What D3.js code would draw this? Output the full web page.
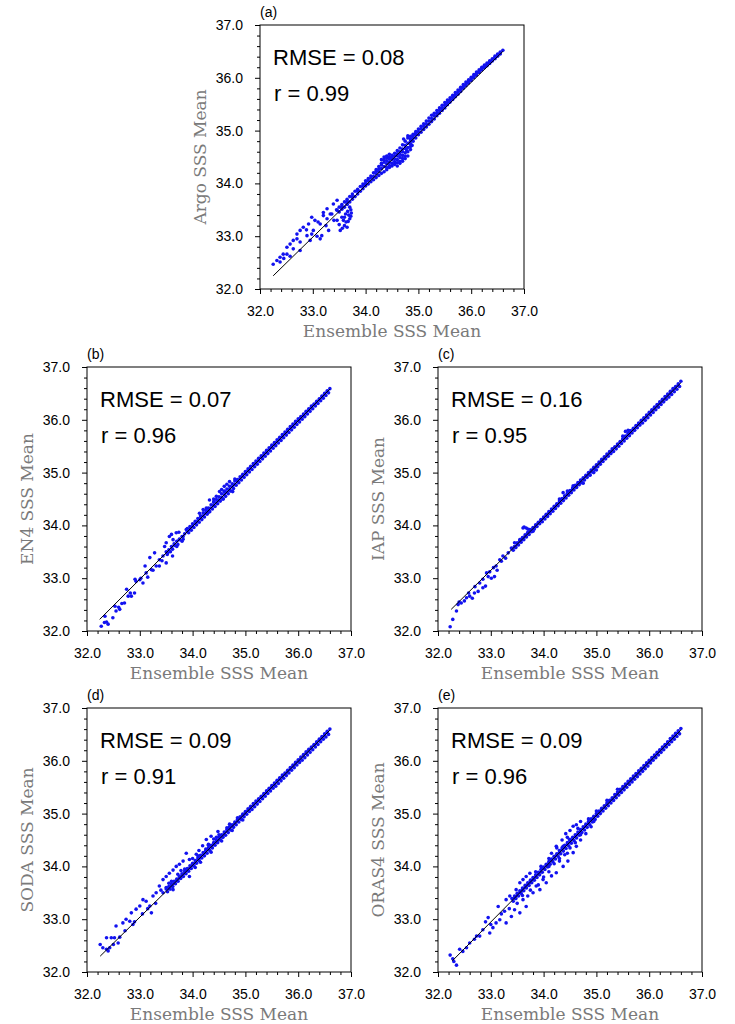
<!DOCTYPE html>
<html>
<head>
<meta charset="utf-8">
<script src="https://cdn.jsdelivr.net/npm/d3@7"></script>
<style>
  body { margin: 0; background: #fff; }
  svg { display: block; }
</style>
</head>
<body>
<svg></svg>
<script>
// ---- data ----
const products = ["Argo", "EN4", "IAP", "SODA", "ORAS4"];
const panelTags = ["(a)", "(b)", "(c)", "(d)", "(e)"];
const rmseVals = ["0.08", "0.07", "0.16", "0.09", "0.09"];
const rVals = ["0.99", "0.96", "0.95", "0.91", "0.96"];
const majorTicks = [32, 33, 34, 35, 36, 37];
const minorTicks = [32.2, 32.4, 32.6, 32.8, 33.2, 33.4, 33.6, 33.8, 34.2, 34.4, 34.6, 34.8,
                    35.2, 35.4, 35.6, 35.8, 36.2, 36.4, 36.6, 36.8];

// fitted line end points per panel
const fitLines = [
  [[32.25, 32.25], [36.6, 36.5]],
  [[32.24, 32.22], [36.6, 36.58]],
  [[32.25, 32.41], [36.6, 36.7]],
  [[32.25, 32.3], [36.6, 36.58]],
  [[32.27, 32.21], [36.6, 36.58]]
];

// [ensemble mean, product mean]
const argoPts = [
  // sparse low-salinity part
  [32.25,32.47],[32.32,32.54],[32.38,32.6],[32.44,32.66],[32.51,32.79],[32.57,32.85],[32.63,32.92],[32.7,33.04],[32.76,33.11],[32.82,33.17],
  [32.92,33.23],[32.98,33.36],[33.04,33.3],[32.98,33.04],[33.14,32.95],[33.17,33.01],[33.3,33.11],[33.2,33.39],[33.33,33.42],[33.46,33.3],
  [33.52,33.11],[33.65,33.17],[32.38,32.51],[32.51,32.66],[32.63,32.76],[32.76,32.89],[32.89,33.01],[33.01,33.11],[33.14,33.23],[33.27,33.33],
  [33.36,33.42],[33.46,33.49],[33.55,33.55],[33.65,33.61],[32.76,32.73],[32.57,32.62],[32.95,32.92],[33.08,33.0],[33.25,33.2],[33.4,33.3],
  [33.27,33.52],[33.39,33.61],[33.46,33.68],[33.2,33.45],[32.45,32.58],[32.88,33.12],[33.1,33.27],[32.7,32.95],
  // hook near 33.7
  [33.7,33.55],[33.72,33.5],[33.73,33.44],[33.72,33.38],[33.7,33.33],[33.67,33.28],[33.63,33.27],[33.58,33.3],[33.55,33.36],[33.62,33.42],
  [33.66,33.47],[33.6,33.36],[33.5,33.22],[33.56,33.15],[33.6,33.2],[33.68,33.4],
  // band
  [33.45,33.5],[33.5,33.55],[33.55,33.6],[33.6,33.65],[33.65,33.7],[33.7,33.75],[33.75,33.8],[33.8,33.85],[33.85,33.89],[33.9,33.94],[33.95,33.99],
  [33.5,33.46],[33.55,33.51],[33.6,33.55],[33.65,33.6],[33.7,33.65],[33.75,33.7],[33.8,33.75],[33.85,33.8],[33.9,33.85],[33.95,33.9],
  [34.0,34.05],[34.05,34.09],[34.1,34.14],[34.15,34.2],[34.2,34.26],[34.25,34.32],[34.3,34.38],[34.35,34.45],[34.4,34.48],[34.45,34.5],
  [34.5,34.53],[34.55,34.57],[34.6,34.62],[34.65,34.67],[34.7,34.73],[34.75,34.8],[34.8,34.86],[34.85,34.89],[34.9,34.93],[34.95,34.98],
  [35.0,35.03],[35.05,35.08],[35.1,35.13],[35.15,35.18],[35.2,35.24],[35.25,35.29],[35.3,35.33],[35.35,35.38],[35.4,35.43],[35.45,35.48],
  [35.5,35.53],[35.55,35.58],[35.6,35.62],[35.65,35.67],[35.7,35.72],[35.75,35.77],[35.8,35.82],[35.85,35.87],[35.9,35.92],[35.95,35.96],
  [36.0,36.01],[36.05,36.06],[36.1,36.11],[36.15,36.15],[36.2,36.2],[36.25,36.24],[36.3,36.28],[36.35,36.32],[36.4,36.36],[36.45,36.41],
  [36.5,36.45],[36.55,36.49],[36.6,36.52],
  [34.0,33.95],[34.05,33.99],[34.1,34.03],[34.15,34.07],[34.2,34.11],[34.25,34.15],[34.3,34.19],[34.35,34.22],[34.4,34.26],[34.45,34.3],
  [34.5,34.33],[34.55,34.36],[34.6,34.39],[34.65,34.42],[34.7,34.47],[34.75,34.52],[34.8,34.6],[34.85,34.7],[34.9,34.8],[34.95,34.86],
  [35.0,34.92],[35.05,34.97],[35.1,35.02],[35.15,35.07],[35.2,35.12],[35.25,35.17],[35.3,35.22],[35.35,35.28],[35.4,35.33],[35.45,35.38],
  [35.5,35.43],[35.55,35.49],[35.6,35.54],[35.65,35.59],[35.7,35.64],[35.75,35.69],[35.8,35.74],[35.85,35.8],[35.9,35.85],[35.95,35.9],
  [36.0,35.95],[36.05,36.0],[36.1,36.05],[36.15,36.1],[36.2,36.15],[36.25,36.19],[36.3,36.23],[36.35,36.27],[36.4,36.32],[36.45,36.36],
  [36.5,36.41],[36.55,36.45],
  [34.15,34.13],[34.25,34.22],[34.35,34.32],[34.45,34.4],[34.55,34.46],[34.65,34.55],[34.75,34.66],[34.85,34.8],[34.95,34.92],[34.3,34.28],
  [34.5,34.45],[34.7,34.6],[34.6,34.52],[34.4,34.37],[34.2,34.18],[34.35,34.5],[34.4,34.52],[34.45,34.55],[34.3,34.45],[34.8,34.9],
  [34.72,34.84],[34.7,34.42],[34.75,34.47],[34.8,34.52],[34.65,34.38],[34.6,34.33],[34.78,34.62],[34.85,34.64],[34.88,34.72],
  [33.55,33.56],[33.65,33.66],[33.75,33.75],[33.85,33.85],[33.95,33.95],[35.0,34.98],[35.05,35.03],[35.1,35.08],[35.15,35.13],[35.2,35.18],
  [35.25,35.23],[35.3,35.28],[35.35,35.33],[35.4,35.38],[35.45,35.43],[35.5,35.48],[35.55,35.53],[35.6,35.58],[35.65,35.63],[35.7,35.68],
  [35.75,35.73],[35.8,35.78],[35.85,35.83],[35.9,35.88],[35.95,35.93],[36.0,35.98],[36.05,36.03],[36.1,36.08],[36.15,36.12],[36.2,36.17],
  [36.25,36.22],[36.3,36.26],[36.35,36.3],[36.4,36.34],[36.45,36.38],[36.5,36.43],[36.55,36.47],
  [34.3,34.35],[34.35,34.4],[34.4,34.43],[34.45,34.46],[34.5,34.49],[34.55,34.52],[34.6,34.56],[34.65,34.6],[34.7,34.65],[34.75,34.72],
  [34.8,34.76],[34.85,34.84],[34.4,34.3],[34.45,34.34],[34.5,34.38],[34.55,34.41],[34.6,34.45],[34.65,34.49],[34.7,34.53],[34.75,34.58],
  [34.8,34.68],[34.85,34.75],[34.9,34.86],[34.25,34.27],[34.2,34.23],[34.1,34.1],[34.05,34.05],[34.0,34.0],[33.98,33.97],[34.9,34.9],
  [34.95,34.95]
];

const en4Pts = [
  [32.27,32.09],[32.33,32.16],[32.4,32.13],[32.37,32.17],[32.34,32.28],[32.49,32.25],[32.53,32.47],[32.55,32.38],[32.62,32.41],[32.66,32.52],
  [32.71,32.53],[32.75,32.79],[32.78,32.66],[32.84,32.66],[32.9,32.72],[32.91,32.98],[32.93,32.94],[33.0,32.97],[33.06,32.91],[33.1,33.23],
  [33.12,33.1],[33.19,33.39],[33.22,33.16],[33.28,33.48],[33.31,33.23],[33.37,33.35],[33.44,33.42],[33.5,33.67],[33.53,33.48],[33.56,33.79],
  [33.63,33.73],[33.69,33.86],[33.75,33.73],[33.82,33.79],[33.88,33.92],[33.47,33.6],[33.6,33.83],[33.74,33.87],[33.66,33.62],[33.37,33.23],
  [33.5,33.29],[33.62,33.42],[33.42,33.33],[33.58,33.5],[33.7,33.6],[33.8,33.7],[32.6,32.45],[32.82,32.72],[33.02,33.0],[33.15,33.02],
  [33.25,33.15],[34.13,34.23],[34.26,34.33],[34.32,34.48],[34.45,34.55],[34.51,34.64],[34.6,34.74],[34.7,34.83],[34.76,34.64],[34.4,34.5],
  [34.55,34.68],[34.65,34.78],[34.8,34.88],[34.2,34.3],[34.58,34.5],
  [33.5,33.5],[33.55,33.54],[33.6,33.6],[33.65,33.65],[33.7,33.7],[33.75,33.74],[33.8,33.79],[33.85,33.84],[33.52,33.45],[33.62,33.55],
  [33.72,33.64],[33.82,33.74],
  [33.9,33.94],[33.95,33.98],[34.0,34.03],[34.05,34.08],[34.1,34.13],[34.15,34.18],[34.2,34.24],[34.25,34.28],[34.3,34.33],[34.35,34.39],
  [34.4,34.44],[34.45,34.49],[34.5,34.54],[34.55,34.6],[34.6,34.64],[34.65,34.69],[34.7,34.74],[34.75,34.79],[34.8,34.84],[34.85,34.87],
  [34.9,34.92],[34.95,34.97],[35.0,35.02],[35.05,35.07],[35.1,35.12],[35.15,35.17],[35.2,35.22],[35.25,35.27],[35.3,35.32],[35.35,35.37],
  [35.4,35.42],[35.45,35.47],[35.5,35.52],[35.55,35.57],[35.6,35.62],[35.65,35.67],[35.7,35.72],[35.75,35.77],[35.8,35.82],[35.85,35.87],
  [35.9,35.92],[35.95,35.97],[36.0,36.02],[36.05,36.06],[36.1,36.11],[36.15,36.16],[36.2,36.21],[36.25,36.26],[36.3,36.3],[36.35,36.35],
  [36.4,36.4],[36.45,36.45],[36.5,36.5],[36.55,36.55],[36.6,36.59],
  [33.925,33.86],[33.975,33.91],[34.025,33.96],[34.075,34.01],[34.125,34.06],[34.175,34.11],[34.225,34.16],[34.275,34.21],[34.325,34.26],[34.375,34.31],
  [34.425,34.36],[34.475,34.41],[34.525,34.46],[34.575,34.5],[34.625,34.55],[34.675,34.6],[34.725,34.65],[34.775,34.7],[34.825,34.76],[34.875,34.81],
  [34.925,34.86],[34.975,34.91],[35.025,34.96],[35.075,35.01],[35.125,35.06],[35.175,35.11],[35.225,35.16],[35.275,35.21],[35.325,35.26],[35.375,35.31],
  [35.425,35.36],[35.475,35.41],[35.525,35.46],[35.575,35.51],[35.625,35.56],[35.675,35.61],[35.725,35.66],[35.775,35.71],[35.825,35.76],[35.875,35.81],
  [35.925,35.86],[35.975,35.91],[36.025,35.96],[36.075,36.01],[36.125,36.06],[36.175,36.11],[36.225,36.16],[36.275,36.21],[36.325,36.26],[36.375,36.31],
  [36.425,36.36],[36.475,36.41],[36.525,36.46],[36.575,36.51],
  [34.3,34.25],[34.5,34.47],[34.7,34.66],[34.4,34.45],[34.6,34.65],[34.8,34.77],
  [33.9,33.89],[33.95,33.93],[34.0,33.98],[34.05,34.03],[34.1,34.08],[34.15,34.13],[34.2,34.18],[34.25,34.23],[34.3,34.28],[34.35,34.33],
  [34.4,34.38],[34.45,34.43],[34.5,34.48],[34.55,34.53],[34.6,34.58],[34.65,34.63],[34.7,34.68],[34.75,34.73],[34.8,34.78],[34.85,34.83],
  [34.9,34.88],[34.95,34.93],[35.0,34.98],[35.05,35.03],[35.1,35.08],[35.15,35.13],[35.2,35.18],[35.25,35.23],[35.3,35.28],[35.35,35.33],
  [35.4,35.38],[35.45,35.43],[35.5,35.48],[35.55,35.53],[35.6,35.58],[35.65,35.63],[35.7,35.68],[35.75,35.73],[35.8,35.78],[35.85,35.83],
  [35.9,35.88],[35.95,35.93],[36.0,35.98],[36.05,36.03],[36.1,36.08],[36.15,36.13],[36.2,36.18],[36.25,36.23],[36.3,36.28],[36.35,36.33],
  [36.4,36.38],[36.45,36.43],[36.5,36.48],[36.55,36.53]
];

const iapPts = [
  [32.23,32.08],[32.28,32.22],[32.35,32.38],[32.38,32.5],[32.44,32.53],[32.5,32.57],[32.54,32.63],[32.6,32.66],[32.69,32.72],[32.76,32.75],
  [32.79,32.91],[32.85,32.82],[32.95,33.03],[33.01,33.0],[33.07,33.03],[32.92,33.1],[33.1,33.23],[33.17,33.35],[33.23,33.42],[33.33,33.48],
  [33.39,33.57],[33.45,33.67],[33.55,33.73],[33.61,33.95],[33.63,33.97],[33.67,33.95],[33.7,33.93],[33.74,33.92],[33.8,33.89],[33.86,33.98],
  [32.4,32.55],[32.58,32.72],[32.7,32.84],[32.85,32.98],[32.98,33.12],[33.05,33.2],[33.2,33.32],[32.65,32.62],[32.9,32.85],[33.12,33.15],
  [33.28,33.38],[35.55,35.78],[35.6,35.8],[35.63,35.79],[35.5,35.69],[34.37,34.62],[34.56,34.75],[34.68,34.81],[34.3,34.5],[34.45,34.65],
  [34.95,35.0],[35.0,35.05],[34.88,34.95],[34.75,34.8],
  [33.4,33.56],[33.45,33.6],[33.5,33.67],[33.55,33.72],[33.6,33.77],[33.65,33.82],[33.7,33.87],[33.75,33.91],[33.8,33.96],[33.85,34.01],
  [33.9,34.06],[33.95,34.11],[34.0,34.16],[34.05,34.21],[34.1,34.26],[34.15,34.31],[34.2,34.36],[34.25,34.41],[34.3,34.46],[34.35,34.51],
  [34.4,34.56],[34.45,34.61],[34.5,34.66],[34.55,34.71],[34.6,34.76],[34.65,34.81],[34.7,34.86],[34.75,34.9],[34.8,34.95],[34.85,35.0],
  [34.9,35.05],[34.95,35.1],[35.0,35.15],[35.05,35.2],[35.1,35.25],[35.15,35.3],[35.2,35.35],[35.25,35.4],[35.3,35.45],[35.35,35.49],
  [35.4,35.54],[35.45,35.59],[35.5,35.64],[35.55,35.69],[35.6,35.74],[35.65,35.79],[35.7,35.84],[35.75,35.89],[35.8,35.94],[35.85,35.99],
  [35.9,36.04],[35.95,36.09],[36.0,36.14],[36.05,36.19],[36.1,36.24],[36.15,36.29],[36.2,36.34],[36.25,36.39],[36.3,36.44],[36.35,36.49],
  [36.4,36.54],[36.45,36.59],[36.5,36.63],[36.55,36.68],[36.6,36.73],
  [33.425,33.53],[33.475,33.58],[33.525,33.63],[33.575,33.68],[33.625,33.73],[33.675,33.78],[33.725,33.83],[33.775,33.88],[33.825,33.93],[33.875,33.98],
  [33.925,34.03],[33.975,34.07],[34.025,34.12],[34.075,34.17],[34.125,34.22],[34.175,34.27],[34.225,34.32],[34.275,34.37],[34.325,34.42],[34.375,34.47],
  [34.425,34.52],[34.475,34.57],[34.525,34.62],[34.575,34.67],[34.625,34.72],[34.675,34.77],[34.725,34.81],[34.775,34.86],[34.825,34.91],[34.875,34.96],
  [34.925,35.01],[34.975,35.06],[35.025,35.11],[35.075,35.16],[35.125,35.21],[35.175,35.26],[35.225,35.31],[35.275,35.36],[35.325,35.4],[35.375,35.45],
  [35.425,35.5],[35.475,35.55],[35.525,35.6],[35.575,35.65],[35.625,35.7],[35.675,35.75],[35.725,35.8],[35.775,35.85],[35.825,35.9],[35.875,35.94],
  [35.925,35.99],[35.975,36.04],[36.025,36.09],[36.075,36.14],[36.125,36.19],[36.175,36.24],[36.225,36.29],[36.275,36.34],[36.325,36.39],[36.375,36.43],
  [36.425,36.48],[36.475,36.53],[36.525,36.58],[36.575,36.63],
  [33.45,33.59],[33.5,33.64],[33.55,33.69],[33.6,33.74],[33.65,33.79],[33.7,33.84],[33.75,33.89],[33.8,33.94],[33.85,33.99],[33.9,34.04],
  [33.95,34.09],[34.0,34.14],[34.05,34.19],[34.1,34.23],[34.15,34.28],[34.2,34.33],[34.25,34.38],[34.3,34.43],[34.35,34.48],[34.4,34.53],
  [34.45,34.58],[34.5,34.63],[34.55,34.68],[34.6,34.73],[34.65,34.78],[34.7,34.83],[34.75,34.88],[34.8,34.92],[34.85,34.97],[34.9,35.02],
  [34.95,35.07],[35.0,35.12],[35.05,35.17],[35.1,35.22],[35.15,35.27],[35.2,35.32],[35.25,35.37],[35.3,35.42],[35.35,35.47],[35.4,35.52],
  [35.45,35.57],[35.5,35.62],[35.55,35.66],[35.6,35.71],[35.65,35.76],[35.7,35.81],[35.75,35.86],[35.8,35.91],[35.85,35.96],[35.9,36.01],
  [35.95,36.06],[36.0,36.11],[36.05,36.16],[36.1,36.21],[36.15,36.26],[36.2,36.31],[36.25,36.35],[36.3,36.4],[36.35,36.45],[36.4,36.5],
  [36.45,36.55],[36.5,36.6],[36.55,36.65]
];

const sodaPts = [
  [32.25,32.52],[32.3,32.46],[32.37,32.43],[32.43,32.46],[32.37,32.65],[32.46,32.65],[32.52,32.65],[32.59,32.55],[32.55,32.87],[32.68,32.93],
  [32.74,33.0],[32.81,32.96],[32.87,32.9],[32.84,33.12],[32.93,33.19],[33.0,33.25],[33.06,33.37],[33.12,33.34],[33.19,33.25],[33.25,33.44],
  [33.31,33.5],[33.22,33.12],[33.37,33.63],[33.44,33.75],[33.5,33.81],[33.56,33.87],[33.63,33.93],[33.69,34.0],[33.75,34.04],[33.82,34.1],
  [33.88,34.25],[33.94,34.13],[34.07,34.23],[34.19,34.39],[34.26,34.51],[34.35,34.57],[34.48,34.66],[33.44,33.5],[33.63,33.56],[33.94,33.81],
  [32.4,32.4],[32.5,32.52],[32.62,32.66],[32.72,32.78],[32.9,32.95],[33.05,33.1],[33.15,33.2],[33.3,33.3],[33.5,33.6],[33.6,33.72],
  [33.72,33.85],[33.85,33.95],[33.4,33.55],[33.55,33.68],[33.78,33.92],[34.0,34.15],[34.12,34.3],[34.3,34.42],[34.4,34.52],
  [33.5,33.57],[33.55,33.62],[33.6,33.67],[33.65,33.72],[33.7,33.76],[33.75,33.81],[33.8,33.86],[33.85,33.91],[33.9,33.96],[33.95,34.01],
  [34.0,34.06],[34.05,34.11],[34.1,34.16],[34.15,34.21],[34.2,34.26],[34.25,34.3],[34.3,34.35],[34.35,34.4],[34.4,34.45],[34.45,34.5],
  [34.5,34.55],[34.55,34.6],[34.6,34.65],[34.65,34.7],[34.7,34.75],[34.75,34.79],[34.8,34.84],[34.85,34.89],[34.9,34.94],[34.95,34.99],
  [35.0,35.04],[35.05,35.09],[35.1,35.14],[35.15,35.19],[35.2,35.24],[35.25,35.28],[35.3,35.33],[35.35,35.38],[35.4,35.43],[35.45,35.48],
  [35.5,35.53],[35.55,35.58],[35.6,35.63],[35.65,35.68],[35.7,35.73],[35.75,35.77],[35.8,35.82],[35.85,35.87],[35.9,35.92],[35.95,35.97],
  [36.0,36.02],[36.05,36.07],[36.1,36.12],[36.15,36.17],[36.2,36.22],[36.25,36.26],[36.3,36.31],[36.35,36.36],[36.4,36.41],[36.45,36.46],
  [36.5,36.51],[36.55,36.56],[36.6,36.6],
  [33.525,33.52],[33.575,33.57],[33.625,33.62],[33.675,33.67],[33.725,33.72],[33.775,33.77],[33.825,33.81],[33.875,33.86],[33.925,33.91],[33.975,33.96],
  [34.025,34.01],[34.075,34.06],[34.125,34.11],[34.175,34.16],[34.225,34.2],[34.275,34.25],[34.325,34.3],[34.375,34.35],[34.425,34.4],[34.475,34.45],
  [34.525,34.5],[34.575,34.55],[34.625,34.59],[34.675,34.64],[34.725,34.69],[34.775,34.74],[34.825,34.79],[34.875,34.84],[34.925,34.89],[34.975,34.94],
  [35.025,34.99],[35.075,35.04],[35.125,35.08],[35.175,35.13],[35.225,35.18],[35.275,35.23],[35.325,35.28],[35.375,35.33],[35.425,35.38],[35.475,35.43],
  [35.525,35.48],[35.575,35.52],[35.625,35.57],[35.675,35.62],[35.725,35.67],[35.775,35.72],[35.825,35.77],[35.875,35.82],[35.925,35.87],[35.975,35.92],
  [36.025,35.97],[36.075,36.01],[36.125,36.06],[36.175,36.11],[36.225,36.16],[36.275,36.21],[36.325,36.26],[36.375,36.31],[36.425,36.36],[36.475,36.41],
  [36.525,36.45],[36.575,36.5],
  [34.05,33.98],[34.15,34.08],[34.25,34.33],[34.35,34.27],[34.45,34.55],[34.55,34.48],[34.65,34.73],[34.75,34.68],[34.85,34.92],[34.95,34.88],
  [34.1,34.2],[34.3,34.4],[34.5,34.6],[34.7,34.8],
  [33.55,33.58],[33.6,33.63],[33.65,33.68],[33.7,33.73],[33.75,33.78],[33.8,33.83],[33.85,33.87],[33.9,33.92],[33.95,33.97],[34.0,34.02],
  [34.05,34.07],[34.1,34.12],[34.15,34.17],[34.2,34.22],[34.25,34.27],[34.3,34.32],[34.35,34.37],[34.4,34.42],[34.45,34.46],[34.5,34.51],
  [34.55,34.56],[34.6,34.61],[34.65,34.66],[34.7,34.71],[34.75,34.76],[34.8,34.81],[34.85,34.86],[34.9,34.91],[34.95,34.96],[35.0,35.01],
  [35.05,35.06],[35.1,35.1],[35.15,35.15],[35.2,35.2],[35.25,35.25],[35.3,35.3],[35.35,35.35],[35.4,35.4],[35.45,35.45],[35.5,35.5],
  [35.55,35.55],[35.6,35.6],[35.65,35.65],[35.7,35.7],[35.75,35.74],[35.8,35.79],[35.85,35.84],[35.9,35.89],[35.95,35.94],[36.0,35.99],
  [36.05,36.04],[36.1,36.09],[36.15,36.14],[36.2,36.19],[36.25,36.24],[36.3,36.29],[36.35,36.34],[36.4,36.39],[36.45,36.43],[36.5,36.48],
  [36.55,36.53]
];

const oras4Pts = [
  [32.23,32.32],[32.28,32.25],[32.35,32.13],[32.3,32.2],[32.41,32.43],[32.47,32.39],[32.54,32.46],[32.6,32.55],[32.69,32.62],[32.73,32.68],
  [32.79,32.68],[32.95,33.03],[32.98,32.74],[33.04,32.84],[33.1,32.93],[33.17,32.99],[33.14,33.24],[33.26,33.15],[33.29,32.93],[33.39,33.05],
  [33.45,33.18],[33.55,33.12],[33.61,33.37],[33.67,33.24],[33.7,33.44],[33.8,33.5],[33.86,33.63],[33.93,33.56],[33.99,33.75],[34.05,33.69],
  [34.15,33.82],[34.24,33.88],[34.37,34.0],[34.46,34.1],[34.56,34.26],[34.62,34.38],[33.67,33.81],[33.74,33.87],[33.61,33.75],[33.55,33.69],
  [33.48,33.56],[33.36,33.44],[33.29,33.37],[34.3,34.26],[34.37,34.38],[34.49,34.51],[34.56,34.76],[34.62,34.79],[34.24,34.38],[32.85,32.8],
  [32.9,32.95],[33.0,32.9],[33.2,33.1],[33.35,33.2],[33.5,33.3],[33.6,33.45],[33.75,33.55],[33.9,33.65],[34.0,33.8],[34.1,33.9],
  [34.3,34.1],[34.45,34.25],[34.7,34.5],[34.8,34.62],[34.9,34.75],[34.42,34.62],[34.5,34.68],[34.7,34.85],[34.35,34.5],[33.85,33.9],
  [33.95,34.0],[34.1,34.15],
  [33.4,33.39],[33.45,33.44],[33.5,33.49],[33.55,33.54],[33.6,33.59],[33.65,33.64],[33.7,33.69],[33.75,33.74],[33.8,33.79],[33.85,33.84],
  [33.9,33.89],[33.95,33.94],[34.0,33.99],[34.05,34.04],[34.1,34.09],[34.15,34.14],[34.2,34.19],[34.25,34.24],[34.3,34.3],[34.35,34.35],
  [34.4,34.4],[34.45,34.45],[34.5,34.5],[34.55,34.55],[34.6,34.6],[34.65,34.65],[34.7,34.7],[34.75,34.75],[34.8,34.8],[34.85,34.85],
  [34.9,34.9],[34.95,34.95],[35.0,35.0],[35.05,35.05],[35.1,35.1],[35.15,35.15],[35.2,35.2],[35.25,35.25],[35.3,35.3],[35.35,35.36],
  [35.4,35.41],[35.45,35.46],[35.5,35.51],[35.55,35.56],[35.6,35.61],[35.65,35.66],[35.7,35.71],[35.75,35.76],[35.8,35.81],[35.85,35.86],
  [35.9,35.91],[35.95,35.96],[36.0,36.01],[36.05,36.06],[36.1,36.11],[36.15,36.16],[36.2,36.21],[36.25,36.26],[36.3,36.31],[36.35,36.36],
  [36.4,36.42],[36.45,36.47],[36.5,36.52],[36.55,36.57],[36.6,36.61],
  [33.425,33.34],[33.475,33.39],[33.525,33.44],[33.575,33.49],[33.625,33.54],[33.675,33.59],[33.725,33.64],[33.775,33.69],[33.825,33.74],[33.875,33.79],
  [33.925,33.84],[33.975,33.89],[34.025,33.94],[34.075,33.99],[34.125,34.04],[34.175,34.09],[34.225,34.14],[34.275,34.19],[34.325,34.24],[34.375,34.29],
  [34.425,34.34],[34.475,34.39],[34.525,34.44],[34.575,34.49],[34.625,34.54],[34.675,34.59],[34.725,34.64],[34.775,34.69],[34.825,34.74],[34.875,34.79],
  [34.925,34.84],[34.975,34.89],[35.025,34.95],[35.075,35.0],[35.125,35.05],[35.175,35.1],[35.225,35.15],[35.275,35.2],[35.325,35.25],[35.375,35.3],
  [35.425,35.35],[35.475,35.4],[35.525,35.45],[35.575,35.5],[35.625,35.55],[35.675,35.6],[35.725,35.65],[35.775,35.7],[35.825,35.75],[35.875,35.8],
  [35.925,35.85],[35.975,35.9],[36.025,35.96],[36.075,36.01],[36.125,36.06],[36.175,36.11],[36.225,36.16],[36.275,36.21],[36.325,36.26],[36.375,36.31],
  [36.425,36.36],[36.475,36.41],[36.525,36.46],[36.575,36.51],
  [34.1,34.0],[34.2,34.05],[34.3,34.15],[34.4,34.22],[34.5,34.35],[34.6,34.45],[34.7,34.6],[34.25,34.35],[34.45,34.55],[34.65,34.72],
  [34.85,34.9],[35.0,35.05],[34.95,34.85],[34.15,34.25],[35.2,35.25],[35.4,35.46],
  [33.45,33.4],[33.5,33.45],[33.55,33.5],[33.6,33.55],[33.65,33.6],[33.7,33.65],[33.75,33.7],[33.8,33.75],[33.85,33.8],[33.9,33.85],
  [33.95,33.9],[34.0,33.96],[34.05,34.01],[34.1,34.06],[34.15,34.11],[34.2,34.16],[34.25,34.21],[34.3,34.26],[34.35,34.31],[34.4,34.36],
  [34.45,34.41],[34.5,34.46],[34.55,34.51],[34.6,34.56],[34.65,34.61],[34.7,34.66],[34.75,34.71],[34.8,34.76],[34.85,34.81],[34.9,34.86],
  [34.95,34.91],[35.0,34.96],[35.05,35.01],[35.1,35.07],[35.15,35.12],[35.2,35.17],[35.25,35.22],[35.3,35.27],[35.35,35.32],[35.4,35.37],
  [35.45,35.42],[35.5,35.47],[35.55,35.52],[35.6,35.57],[35.65,35.62],[35.7,35.67],[35.75,35.72],[35.8,35.77],[35.85,35.82],[35.9,35.87],
  [35.95,35.92],[36.0,35.97],[36.05,36.02],[36.1,36.08],[36.15,36.13],[36.2,36.18],[36.25,36.23],[36.3,36.28],[36.35,36.33],[36.4,36.38],
  [36.45,36.43],[36.5,36.48],[36.55,36.53]
];

const pointSets = [argoPts, en4Pts, iapPts, sodaPts, oras4Pts];

// ---- layout ----
const svg = d3.select("svg")
    .attr("width", 735)
    .attr("height", 1024);

const size = 264;
const origins = [[260, 25], [87, 367], [438, 367], [87, 708], [438, 708]];
const dotColor = "#1212f0";
const tickFont = "'Liberation Sans', Arial, Helvetica, sans-serif";
const titleFont = "'DejaVu Serif', serif";

const x = d3.scaleLinear().domain([32, 37]).range([0, size]);
const y = d3.scaleLinear().domain([32, 37]).range([size, 0]);

products.forEach((name, i) => {
    const g = svg.append("g")
        .attr("transform", `translate(${origins[i][0]},${origins[i][1]})`);

    // minor ticks
    g.append("g")
        .attr("transform", `translate(0,${size})`)
        .call(d3.axisBottom(x).tickValues(minorTicks).tickSize(3).tickFormat(""))
        .call(a => a.select(".domain").remove());
    g.append("g")
        .call(d3.axisLeft(y).tickValues(minorTicks).tickSize(3).tickFormat(""))
        .call(a => a.select(".domain").remove());

    // major ticks + labels
    g.append("g")
        .attr("class", "x-axis")
        .attr("transform", `translate(0,${size})`)
        .call(d3.axisBottom(x).tickValues(majorTicks).tickSize(5).tickPadding(12).tickFormat(d3.format(".1f")))
        .call(a => a.select(".domain").remove())
        .attr("font-family", tickFont)
        .attr("font-size", 14);

    g.append("g")
        .attr("class", "y-axis")
        .call(d3.axisLeft(y).tickValues(majorTicks).tickSize(5).tickPadding(12).tickFormat(d3.format(".1f")))
        .call(a => a.select(".domain").remove())
        .attr("font-family", tickFont)
        .attr("font-size", 14);

    g.selectAll(".tick line").attr("stroke", "#000");
    g.selectAll(".tick text").attr("fill", "#000");

    // scatter
    g.append("g")
        .selectAll("circle")
        .data(pointSets[i])
        .enter().append("circle")
        .attr("cx", d => x(d[0]))
        .attr("cy", d => y(d[1]))
        .attr("r", 1.8)
        .attr("fill", dotColor);

    // fitted line
    const fit = fitLines[i];
    g.append("line")
        .attr("x1", x(fit[0][0]))
        .attr("y1", y(fit[0][1]))
        .attr("x2", x(fit[1][0]))
        .attr("y2", y(fit[1][1]))
        .attr("stroke", "#000")
        .attr("stroke-width", 1);

    // frame
    g.append("rect")
        .attr("width", size)
        .attr("height", size)
        .attr("fill", "none")
        .attr("stroke", "#000")
        .attr("stroke-width", 1);

    // statistics
    g.append("text")
        .attr("x", 13)
        .attr("y", 40)
        .attr("font-family", tickFont)
        .attr("font-size", 22)
        .text(`RMSE = ${rmseVals[i]}`);
    g.append("text")
        .attr("x", 14)
        .attr("y", 76)
        .attr("font-family", tickFont)
        .attr("font-size", 22)
        .text(`r = ${rVals[i]}`);

    // panel tag
    g.append("text")
        .attr("x", 0)
        .attr("y", -8.5)
        .attr("font-family", tickFont)
        .attr("font-size", 14)
        .text(panelTags[i]);

    // axis titles
    g.append("text")
        .attr("x", size / 2)
        .attr("y", size + 48)
        .attr("text-anchor", "middle")
        .attr("font-family", titleFont)
        .attr("font-size", 17)
        .attr("fill", "#7a7a7a")
        .text("Ensemble SSS Mean");

    g.append("text")
        .attr("x", -(size / 2))
        .attr("y", -54)
        .attr("text-anchor", "middle")
        .attr("transform", "rotate(-90)")
        .attr("font-family", titleFont)
        .attr("font-size", 17)
        .attr("fill", "#7a7a7a")
        .text(`${name} SSS Mean`);
});
</script>
</body>
</html>
